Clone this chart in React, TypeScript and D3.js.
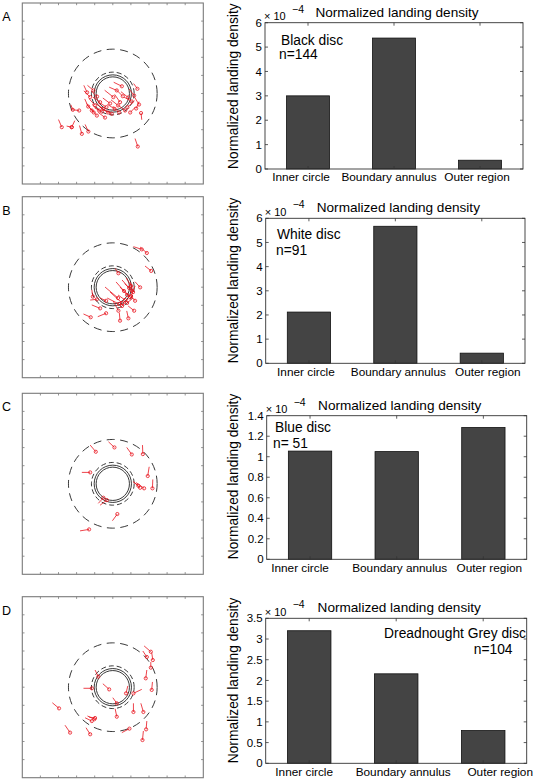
import React from "react";
import * as d3 from "d3";

// ---------- DATA ----------
const categories = ["Inner circle", "Boundary annulus", "Outer region"];

const blackDensity = [3.0, 5.37, 0.36];
const whiteDensity = [2.12, 5.67, 0.42];
const blueDensity = [1.055, 1.05, 1.285];
const greyDensity = [3.2, 2.16, 0.79];

const ticksA = [0, 1, 2, 3, 4, 5, 6];
const ticksB = [0, 1, 2, 3, 4, 5, 6];
const ticksC = [0, 0.2, 0.4, 0.6, 0.8, 1, 1.2, 1.4];
const ticksD = [0, 0.5, 1, 1.5, 2, 2.5, 3, 3.5];

const discNames = ["Black disc", "White disc", "Blue disc", "Dreadnought Grey disc"];
const sampleLabels = ["n=144", "n=91", "n= 51", "n=104"];
const panelLetters = ["A", "B", "C", "D"];

// region radii (plot units)
const ringSolid = [0.92, 1.03];
const ringDashed = [1.18, 2.45];

// approach tracks: [x0, y0, x1, y1], landing point at (x1, y1)
const blackArrows: number[][] = [
  [-2.32, -0.62, -2.21, -0.9], [-2.21, -0.9, -1.86, -0.94], [-3.0, -1.44, -2.82, -1.86],
  [-2.1, -1.5, -2.27, -1.86], [-2.55, -1.8, -2.27, -1.86], [-1.84, -1.77, -1.71, -2.23],
  [-1.53, -1.71, -1.35, -2.1], [1.6, -1.45, 1.56, -1.08], [1.23, -2.49, 1.38, -2.93],
  [0.05, 0.62, 0.5, 0.4], [1.15, 0.55, 1.36, 0.26], [-0.45, 0.18, 0.03, -0.2],
  [0.62, -0.2, 1.05, -0.44], [1.2, -0.4, 0.81, -0.76], [0.1, -0.05, 0.4, -0.48],
  [-0.95, -0.55, -0.52, -0.85], [-0.5, -0.9, -0.06, -1.12], [-1.2, -0.85, -0.88, -1.22],
  [-1.45, -0.55, -1.16, -0.94], [-1.6, 0.15, -1.25, -0.2], [-1.4, 0.45, -1.07, 0.17],
  [-1.1, -0.2, -0.7, -0.48], [-0.2, 0.35, 0.22, 0.17], [-0.7, -0.75, -0.26, -1.05],
  [-1.15, -0.6, -0.76, -0.94], [-1.3, -0.3, -0.98, -0.66], [0.45, 0.1, 0.85, -0.22],
  [0.9, 0.25, 1.18, -0.11], [0.3, -0.65, 0.68, -0.94], [0.0, -0.7, 0.35, -1.05],
  [-0.8, -1.05, -0.43, -1.33], [-1.55, -0.3, -1.36, -0.72], [-1.6, 0.45, -1.42, 0.06],
  [1.2, -0.2, 1.45, -0.61], [-0.1, -0.35, 0.29, -0.66], [1.45, -0.45, 1.29, -0.83],
  [-0.55, -0.25, -0.15, -0.55], [-1.2, 0.15, -0.87, -0.17], [1.25, -0.75, 0.96, -1.05],
  [-1.0, -0.8, -0.6, -1.0], [-0.75, -0.5, -0.35, -0.75], [-1.35, -0.7, -1.05, -1.05],
  [0.2, 0.2, 0.55, -0.15], [-0.3, -0.6, 0.1, -0.85],
];

const whiteArrows: number[][] = [
  [1.14, 2.24, 1.6, 2.09], [1.51, 2.22, 1.88, 1.89], [1.78, 1.17, 2.12, 0.9],
  [0.13, 1.04, 0.31, 0.77], [1.23, 0.3, 1.51, -0.01], [1.01, -0.49, 1.23, -0.75],
  [0.85, -1.04, 1.18, -1.3], [0.77, -1.31, 0.86, -1.72], [0.36, -1.41, 0.4, -1.85],
  [-0.83, -1.63, -0.37, -1.44], [-1.62, -1.48, -1.22, -1.66], [-1.16, -0.98, -0.7, -1.17],
  [-1.16, -0.15, -1.1, -0.52], [-0.7, -0.6, -0.37, -0.75], [-1.25, -0.71, -0.88, -0.67],
  [0.02, -0.76, 0.31, -1.3], [0.18, 0.29, 0.62, -0.21], [0.4, 0.01, 0.79, -0.43],
  [0.29, -0.43, 0.68, -0.71], [0.51, 0.4, 0.9, -0.04], [0.74, 0.51, 1.01, 0.07],
  [-0.15, -0.27, 0.51, -0.87], [0.96, 0.29, 1.12, -0.27], [1.23, 0.07, 1.01, -0.49],
  [-0.31, -0.6, 0.35, -0.93], [0.85, -0.65, 0.51, -1.04], [1.12, -0.6, 0.79, -0.87],
  [-0.43, 0.01, 0.29, -0.6], [0.55, -0.1, 0.95, -0.55], [0.65, 0.2, 1.05, -0.2],
];

const blueArrows: number[][] = [
  [-1.25, 2.14, -0.94, 1.77], [-0.24, 2.32, 0.09, 2.01], [0.77, 2.01, 1.05, 1.62],
  [1.64, 2.14, 1.66, 1.64], [-1.71, 0.63, -1.25, 0.63], [2.01, 0.94, 1.93, 0.43],
  [2.21, 0.24, 2.19, -0.25], [1.14, 0.11, 1.51, -0.22], [1.29, 0.07, 1.73, -0.25],
  [1.14, 0.11, 1.41, -0.11], [-0.8, -1.08, -0.52, -0.77], [-0.7, -1.18, -0.33, -0.9],
  [-0.02, -2.04, 0.25, -1.67], [-1.81, -2.6, -1.31, -2.52],
];

const greyArrows: number[][] = [
  [1.73, 2.28, 2.1, 1.96], [1.66, 2.0, 1.88, 1.67], [2.15, 1.91, 2.21, 1.5],
  [2.1, 1.39, 2.1, 1.08], [1.88, 0.95, 1.82, 0.49], [2.19, 0.29, 2.15, -0.15],
  [1.6, -0.12, 1.14, -0.34], [0.83, 0.07, 0.73, -0.34], [-0.55, 0.19, -0.2, -0.12],
  [-1.62, -0.06, -1.16, -0.06], [-0.98, 0.95, -0.8, 0.58], [0.0, -0.58, 0.22, -0.89],
  [0.13, -1.19, 0.22, -1.63], [1.14, -0.89, 1.14, -1.37], [1.55, -0.89, 1.69, -1.37],
  [1.88, -1.87, 1.84, -2.33], [1.69, -2.42, 1.64, -2.92], [0.5, -2.51, 0.92, -2.29],
  [-1.4, -1.59, -1.02, -1.77], [-1.53, -1.69, -1.16, -1.87], [-1.48, -2.24, -1.25, -2.6],
  [-2.64, -2.1, -2.36, -2.51], [-3.34, -0.86, -2.97, -1.17], [-1.31, -1.65, -0.98, -1.7],
];

const gridTicks = [-4, -3, -2, -1, 0, 1, 2, 3, 4];

// ---------- LAYOUT ----------
const densities = [blackDensity, whiteDensity, blueDensity, greyDensity];
const yTicks = [ticksA, ticksB, ticksC, ticksD];
const arrows = [blackArrows, whiteArrows, blueArrows, greyArrows];

const layout = [
  { boxY: 3, ax: { l: 265, r: 523, t: 22.7, b: 169 }, note: { x: 281, y: 45, anchor: "start", nx: 279, ny: 58.5, nanchor: "start" }, labelDx: [-7, -5, -3] },
  { boxY: 196.7, ax: { l: 265.7, r: 525, t: 218.3, b: 363.3 }, note: { x: 277, y: 238.5, anchor: "start", nx: 276, ny: 255, nanchor: "start" }, labelDx: [-3, 3, 6] },
  { boxY: 393.3, ax: { l: 266.7, r: 526.7, t: 415.7, b: 559.3 }, note: { x: 275, y: 431.7, anchor: "start", nx: 273, ny: 447.5, nanchor: "start" }, labelDx: [-10, 3, 6] },
  { boxY: 596.7, ax: { l: 265.7, r: 526.7, t: 618.3, b: 763.3 }, note: { x: 526, y: 638.3, anchor: "end", nx: 512.5, ny: 654, nanchor: "end" }, labelDx: [-5, 7, 17] },
];

const FONT = "'Liberation Sans', Arial, Helvetica, sans-serif";
const BOX_X = 22.3;
const BOX_SIZE = 181;

function LeftPanel({ idx }: { idx: number }) {
  const y0 = layout[idx].boxY;
  const x = d3.scaleLinear().domain([-5, 5]).range([BOX_X, BOX_X + BOX_SIZE]);
  const y = d3.scaleLinear().domain([-5, 5]).range([y0 + BOX_SIZE, y0]);
  const rpx = (r: number) => x(r) - x(0);
  const tl = 2.2;
  return (
    <g>
      <text x={6.5} y={y0 + 18} fontFamily={FONT} fontSize={12.5} textAnchor="middle">{panelLetters[idx]}</text>
      <rect x={BOX_X} y={y0} width={BOX_SIZE} height={BOX_SIZE} fill="white" stroke="#7a7a7a" strokeWidth={1.1} />
      {gridTicks.map((t) => (
        <g key={t} stroke="#7a7a7a" strokeWidth={0.8}>
          <line x1={x(t)} x2={x(t)} y1={y0 + BOX_SIZE} y2={y0 + BOX_SIZE - tl} />
          <line x1={x(t)} x2={x(t)} y1={y0} y2={y0 + tl} />
          <line x1={BOX_X} x2={BOX_X + tl} y1={y(t)} y2={y(t)} />
          <line x1={BOX_X + BOX_SIZE} x2={BOX_X + BOX_SIZE - tl} y1={y(t)} y2={y(t)} />
        </g>
      ))}
      {ringSolid.map((r) => (
        <circle key={"s" + r} cx={x(0)} cy={y(0)} r={rpx(r)} fill="none" stroke="#222" strokeWidth={0.9} />
      ))}
      <circle cx={x(0)} cy={y(0)} r={rpx(ringDashed[0])} fill="none" stroke="#222" strokeWidth={0.9} strokeDasharray="5 3" />
      <circle cx={x(0)} cy={y(0)} r={rpx(ringDashed[1])} fill="none" stroke="#222" strokeWidth={0.9} strokeDasharray="8 5.5" />
      {arrows[idx].map((a, i) => (
        <g key={i} stroke="#e8141e" strokeWidth={0.8} fill="none">
          <line x1={x(a[0])} y1={y(a[1])} x2={x(a[2])} y2={y(a[3])} />
          <circle cx={x(a[2])} cy={y(a[3])} r={1.6} />
        </g>
      ))}
    </g>
  );
}

function BarPanel({ idx }: { idx: number }) {
  const L = layout[idx];
  const { l, r, t, b } = L.ax;
  const ticks = yTicks[idx];
  const vals = densities[idx];
  const yMax = ticks[ticks.length - 1];
  const x = d3.scaleBand<string>().domain(categories).range([l, r]).paddingInner(0.5).paddingOuter(0.25);
  const y = d3.scaleLinear().domain([0, yMax]).range([b, t]);
  const tl = 3;
  const fmt = (v: number) => String(v);
  const cx = (l + r) / 2;
  return (
    <g fontFamily={FONT}>
      <text x={cx + 3} y={t - 6} fontSize={13.6} textAnchor="middle">Normalized landing density</text>
      <text transform={`translate(${233 + 5},${b}) rotate(-90)`} fontSize={13.8} textAnchor="start">Normalized landing density</text>
      {categories.map((c, i) => (
        <rect key={c} x={x(c)} y={y(vals[i])} width={x.bandwidth()} height={b - y(vals[i])} fill="#444444" stroke="#111" strokeWidth={0.8} />
      ))}
      <rect x={l} y={t} width={r - l} height={b - t} fill="none" stroke="#333" strokeWidth={0.9} />
      {ticks.map((v) => (
        <g key={v}>
          <line x1={l} x2={l + tl} y1={y(v)} y2={y(v)} stroke="#333" strokeWidth={0.8} />
          <line x1={r} x2={r - tl} y1={y(v)} y2={y(v)} stroke="#333" strokeWidth={0.8} />
          <text x={l - 3} y={y(v)} dy="0.36em" fontSize={11.5} textAnchor="end">{fmt(v)}</text>
        </g>
      ))}
      {categories.map((c, i) => {
        const xc = (x(c) as number) + x.bandwidth() / 2;
        return (
          <g key={c}>
            <line x1={xc} x2={xc} y1={b} y2={b - tl} stroke="#333" strokeWidth={0.8} />
            <line x1={xc} x2={xc} y1={t} y2={t + tl} stroke="#333" strokeWidth={0.8} />
            <text x={xc + L.labelDx[i]} y={b + 12.3} fontSize={11.8} textAnchor="middle">{c}</text>
          </g>
        );
      })}
      <text x={l - 1} y={t - 2.6} fontSize={11}>
        × 10
      </text>
      <text x={l + 27} y={t - 10} fontSize={10.5}>−4</text>
      <text x={L.note.x} y={L.note.y} fontSize={13.8} textAnchor={L.note.anchor as any}>{discNames[idx]}</text>
      <text x={L.note.nx} y={L.note.ny} fontSize={13.8} textAnchor={L.note.nanchor as any}>{sampleLabels[idx]}</text>
    </g>
  );
}

export default function App() {
  return (
    <svg width={536} height={782} style={{ position: "absolute", left: 0, top: 0, background: "white" }}>
      <rect width={536} height={782} fill="white" />
      {[0, 1, 2, 3].map((i) => (
        <g key={i}>
          <LeftPanel idx={i} />
          <BarPanel idx={i} />
        </g>
      ))}
    </svg>
  );
}
